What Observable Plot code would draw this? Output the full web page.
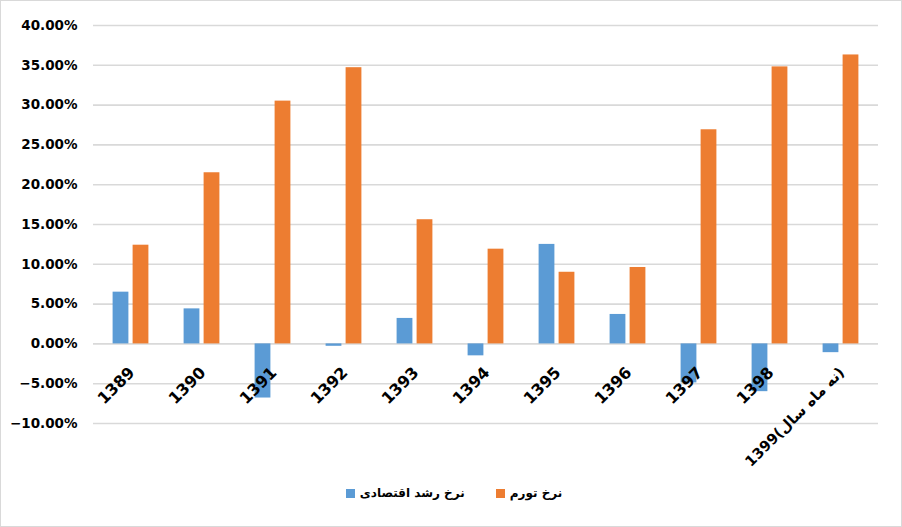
<!DOCTYPE html>
<html><head><meta charset="utf-8">
<script src="https://cdn.jsdelivr.net/npm/d3@7"></script>
<script src="https://cdn.jsdelivr.net/npm/@observablehq/plot@0.6"></script>
<style>
body{margin:0;background:#fff;}
#chart{width:900px;height:525px;border:1px solid #d9d9d9;position:relative;font-family:"DejaVu Sans",sans-serif;overflow:hidden;}
#chart svg{overflow:visible;}
#legend{position:absolute;left:0;right:0;top:485px;display:flex;justify-content:center;align-items:center;gap:31px;font-weight:bold;font-size:12px;color:#000;padding-left:6px;}
.item{display:flex;align-items:center;gap:5px;}
.sw{width:9px;height:9px;display:inline-block;}
</style></head><body><div id="chart"></div>
<script>
const years = ["1389","1390","1391","1392","1393","1394","1395","1396","1397","1398","1399(نه ماه سال)"];
const growth = [0.065,0.044,-0.068,-0.003,0.032,-0.015,0.125,0.037,-0.049,-0.060,-0.011];
const inflation = [0.124,0.215,0.305,0.347,0.156,0.119,0.090,0.096,0.269,0.348,0.363];
const seriesNames = ["نرخ رشد اقتصادی","نرخ تورم"];
const colors = ["#5b9bd5","#ed7d31"];
const yTicks = [-0.10,-0.05,0,0.05,0.10,0.15,0.20,0.25,0.30,0.35,0.40];

const growthData = years.map((y,i)=>({year:y, value:growth[i]}));
const inflData = years.map((y,i)=>({year:y, value:inflation[i]}));

const fmt = d3.format(".2%");
const plot = Plot.plot({
  width: 900, height: 470,
  marginLeft: 92, marginRight: 23, marginTop: 24, marginBottom: 48,
  style: {fontFamily: "DejaVu Sans", background: "transparent", overflow: "visible"},
  x: {type: "band", domain: years, padding: 0, axis: null},
  y: {domain: [-0.10, 0.40], axis: null},
  marks: [
    Plot.gridY(yTicks, {stroke: "#d9d9d9", strokeWidth: 1.6, strokeOpacity: 1}),
    Plot.barY(growthData, {x: "year", y: "value", fill: colors[0], insetLeft: 17.6, insetRight: 37.6}),
    Plot.barY(inflData, {x: "year", y: "value", fill: colors[1], insetLeft: 37.6, insetRight: 17.6}),
    Plot.axisY(yTicks, {label: null, tickSize: 0, tickPadding: 16, tickFormat: fmt, fontSize: 13.5, fontWeight: "bold", fill: "#000"}),
    Plot.text(years, {x: d => d, y: d => 0, text: d => d, rotate: -45, textAnchor: "end", lineAnchor: "middle", dy: 26, dx: 1, fontSize: d => d.length > 4 ? 14.5 : 16, fontWeight: "bold", fill: "#000"})
  ]
});
const chart = document.getElementById("chart");
chart.appendChild(plot);
const legend = document.createElement("div");
legend.id = "legend";
seriesNames.forEach((n,i)=>{
  const it = document.createElement("div"); it.className = "item";
  const sw = document.createElement("span"); sw.className = "sw"; sw.style.background = colors[i];
  const t = document.createElement("span"); t.textContent = n;
  it.appendChild(sw); it.appendChild(t); legend.appendChild(it);
});
chart.appendChild(legend);
</script></body></html>
